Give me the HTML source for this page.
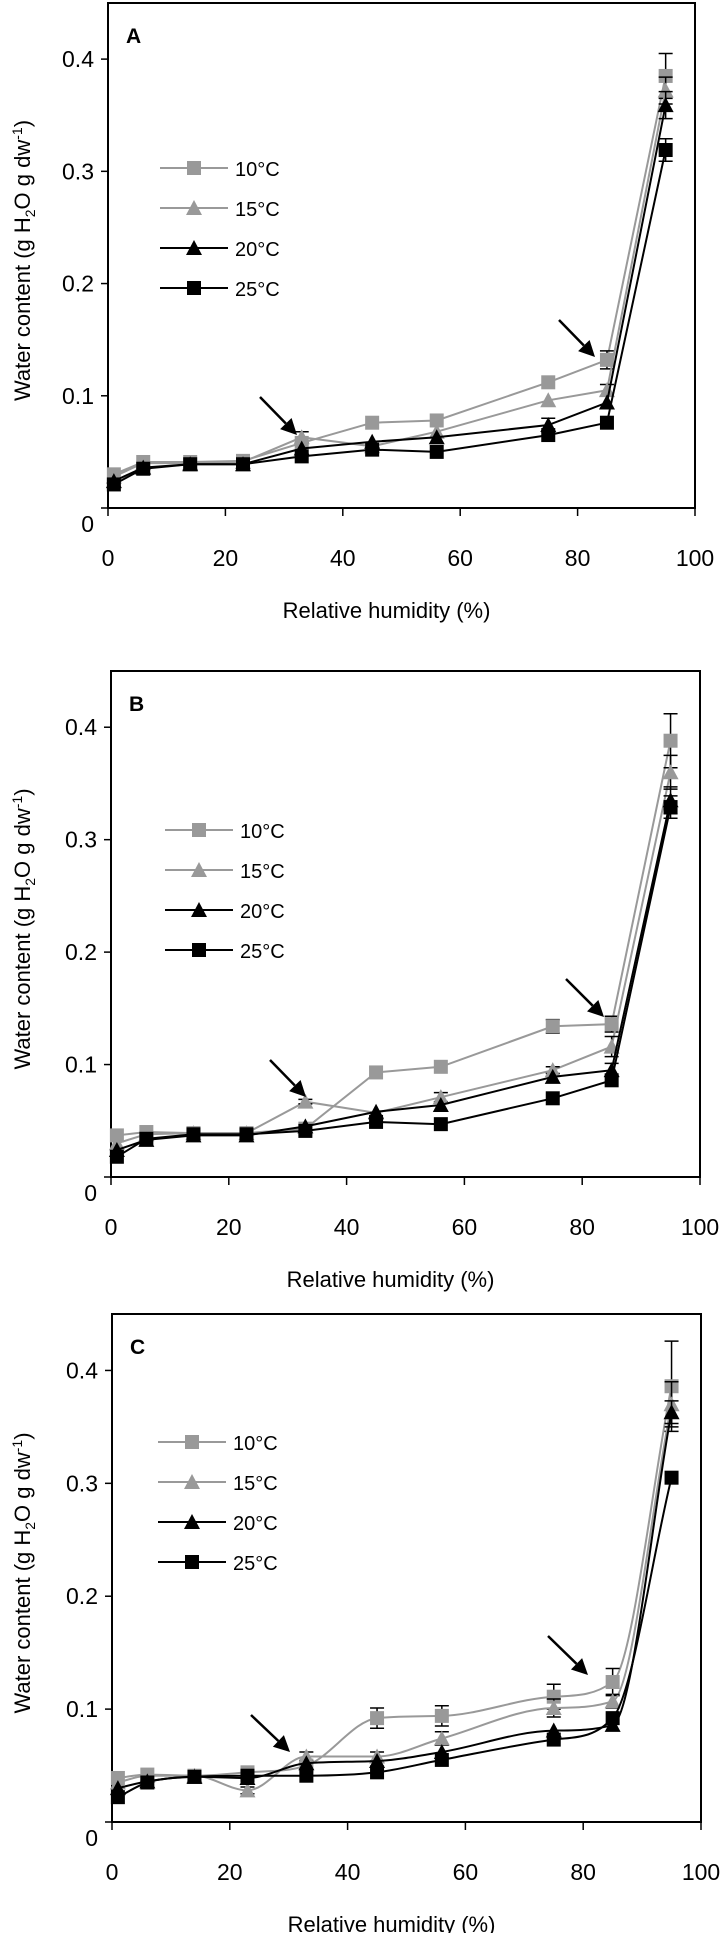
<!DOCTYPE html>
<html><head><meta charset="utf-8">
<style>
body{margin:0;background:#fff;width:720px;height:1933px;overflow:hidden}
svg{display:block}
text{font-family:"Liberation Sans",Arial,sans-serif}
</style></head>
<body>
<svg id="chart" width="720" height="1933" viewBox="0 0 720 1933"></svg>
<script>
const rh = [1, 6, 14, 23, 33, 45, 56, 75, 85, 95];
const xTicks = [0, 20, 40, 60, 80, 100];
const yTicks = [0, 0.1, 0.2, 0.3, 0.4];
const yTickLabels = ["0", "0.1", "0.2", "0.3", "0.4"];
const seriesNames = ["10°C", "15°C", "20°C", "25°C"];

const a10 = [0.030, 0.041, 0.041, 0.042, 0.058, 0.076, 0.078, 0.112, 0.132, 0.385];
const a15 = [0.028, 0.040, 0.040, 0.041, 0.063, 0.055, 0.068, 0.096, 0.105, 0.372];
const a20 = [0.024, 0.036, 0.039, 0.039, 0.053, 0.059, 0.063, 0.074, 0.094, 0.359];
const a25 = [0.021, 0.035, 0.039, 0.039, 0.046, 0.052, 0.050, 0.065, 0.076, 0.319];
const aErr = [[0,0,0,0,0,0,0,0,0.008,0.02],[0,0,0,0,0.005,0,0,0,0.005,0.012],[0,0,0,0,0,0,0,0.006,0,0.012],[0,0,0,0,0,0,0,0,0,0.01]];

const b10 = [0.037, 0.040, 0.039, 0.039, 0.043, 0.093, 0.098, 0.134, 0.136, 0.388];
const b15 = [0.030, 0.038, 0.039, 0.039, 0.067, 0.057, 0.071, 0.095, 0.116, 0.360];
const b20 = [0.024, 0.033, 0.037, 0.037, 0.045, 0.058, 0.064, 0.089, 0.095, 0.335];
const b25 = [0.018, 0.034, 0.038, 0.038, 0.041, 0.049, 0.047, 0.070, 0.086, 0.329];
const bErr = [[0,0,0,0,0,0,0,0.006,0.007,0.024],[0,0,0,0,0.002,0,0.004,0.003,0.009,0.015],[0,0,0,0,0,0,0,0,0.006,0.012],[0,0,0,0,0,0,0,0,0,0.01]];

const c10 = [0.039, 0.042, 0.041, 0.044, 0.050, 0.092, 0.094, 0.111, 0.124, 0.386];
const c15 = [0.035, 0.041, 0.041, 0.028, 0.058, 0.058, 0.074, 0.101, 0.107, 0.370];
const c20 = [0.030, 0.036, 0.040, 0.039, 0.052, 0.054, 0.062, 0.081, 0.086, 0.363];
const c25 = [0.022, 0.035, 0.040, 0.041, 0.041, 0.044, 0.055, 0.073, 0.092, 0.305];
const cErr = [[0,0,0,0,0,0.009,0.009,0.011,0.012,0.04],[0,0,0,0.003,0.004,0.004,0.006,0.008,0.006,0.02],[0,0,0,0,0,0,0,0,0,0.01],[0,0,0,0,0,0,0,0,0,0]];

const NS = "http://www.w3.org/2000/svg";
const svg = document.getElementById("chart");
function mk(tag, attrs, parent, txt){
  const e = document.createElementNS(NS, tag);
  for (const k in attrs) e.setAttribute(k, attrs[k]);
  if (txt !== undefined) e.textContent = txt;
  (parent || svg).appendChild(e);
  return e;
}
const colors = ["#999999", "#999999", "#000000", "#000000"];
const markers = ["square", "triangle", "triangle", "square"];

const panels = [
  {label:"A", L:108, T:3, R:695, B:508, data:[a10,a15,a20,a25], err:aErr, legY:168, legX:160, smooth:false,
   arrows:[[260,397,297,435],[559,320,595,357]]},
  {label:"B", L:111, T:671, R:700, B:1177, data:[b10,b15,b20,b25], err:bErr, legY:830, legX:165, smooth:false,
   arrows:[[270,1060,306,1097],[566,979,604,1017]]},
  {label:"C", L:112, T:1314, R:701, B:1822, data:[c10,c15,c20,c25], err:cErr, legY:1442, legX:158, smooth:true,
   arrows:[[251,1715,290,1752],[548,1636,588,1675]]}
];

function drawMarker(g, type, cx, cy, color){
  let m;
  if (type === "square") m = mk("rect", {x:cx-7, y:cy-7, width:14, height:14, fill:color}, g);
  else m = mk("polygon", {points:`${cx},${cy-8} ${cx+8},${cy+7} ${cx-8},${cy+7}`, fill:color}, g);
  
  
}

function pathFor(pts, smooth){
  if (!smooth) return "M" + pts.map(p => p[0].toFixed(1)+","+p[1].toFixed(1)).join(" L");
  // monotone cubic (Fritsch-Carlson)
  const n = pts.length, d = [], m = [];
  for (let i = 0; i < n-1; i++) d.push((pts[i+1][1]-pts[i][1])/(pts[i+1][0]-pts[i][0]));
  m[0] = d[0]; m[n-1] = d[n-2];
  for (let i = 1; i < n-1; i++) m[i] = (d[i-1]*d[i] <= 0) ? 0 : (d[i-1]+d[i])/2;
  for (let i = 0; i < n-1; i++){
    if (d[i] === 0){ m[i] = 0; m[i+1] = 0; continue; }
    const a = m[i]/d[i], b = m[i+1]/d[i], s = a*a + b*b;
    if (s > 9){ const t = 3/Math.sqrt(s); m[i] = t*a*d[i]; m[i+1] = t*b*d[i]; }
  }
  let path = "M" + pts[0][0].toFixed(1) + "," + pts[0][1].toFixed(1);
  for (let i = 0; i < n-1; i++){
    const h = (pts[i+1][0]-pts[i][0])/3;
    path += ` C${(pts[i][0]+h).toFixed(1)},${(pts[i][1]+m[i]*h).toFixed(1)} ${(pts[i+1][0]-h).toFixed(1)},${(pts[i+1][1]-m[i+1]*h).toFixed(1)} ${pts[i+1][0].toFixed(1)},${pts[i+1][1].toFixed(1)}`;
  }
  return path;
}

panels.forEach((p) => {
  const g = mk("g", {});
  
  
  const unit = (p.B - p.T) / 0.45;
  const xs = v => p.L + (v / 100) * (p.R - p.L);
  const ys = v => p.B - v * unit;
  const box = mk("rect", {x:p.L, y:p.T, width:p.R-p.L, height:p.B-p.T, fill:"none", stroke:"#000", "stroke-width":2}, g);
  
  
  yTicks.forEach((v, i) => {
    const y = ys(v);
    const tk = mk("line", {x1:p.L-7, x2:p.L, y1:y, y2:y, stroke:"#000", "stroke-width":1.5}, g);
    
    
    const ty = i === 0 ? y + 24 : y + 8;
    const lb = mk("text", {x:p.L-14, y:ty, "text-anchor":"end", "font-size":23, fill:"#000"}, g, yTickLabels[i]);
    
    
  });
  xTicks.forEach(v => {
    const x = xs(v);
    const tk = mk("line", {x1:x, x2:x, y1:p.B, y2:p.B+8, stroke:"#000", "stroke-width":1.5}, g);
    
    
    const lb = mk("text", {x:x, y:p.B+58, "text-anchor":"middle", "font-size":23, fill:"#000"}, g, String(v));
    
    
  });
  const xt = mk("text", {x:(p.L+p.R)/2 - 15, y:p.B+110, "text-anchor":"middle", "font-size":22, fill:"#000"}, g, "Relative humidity (%)");
  
  
  const cy = (p.T + p.B) / 2 + 5;
  const yt = mk("text", {x:0, y:0, transform:`translate(30,${cy}) rotate(-90)`, "text-anchor":"middle", "font-size":22, fill:"#000"}, g);
  
  
  yt.innerHTML = 'Water content (g H<tspan font-size="14" dy="5">2</tspan><tspan dy="-5">O g dw</tspan><tspan font-size="14" dy="-8">-1</tspan><tspan dy="8">)</tspan>';
  const pl = mk("text", {x:p.L+18, y:p.T+40, "font-size":21, "font-weight":"bold", fill:"#000"}, g, p.label);
  
  
  p.data.forEach((vals, si) => {
    const sg = mk("g", {}, g);
    
    
    const pts = vals.map((v, i) => [xs(rh[i]), ys(v)]);
    const ln = mk("path", {d:pathFor(pts, p.smooth), fill:"none", stroke:colors[si], "stroke-width":2}, sg);
    
    
    vals.forEach((v, i) => {
      const e = p.err[si][i];
      if (e > 0){
        const x = xs(rh[i]);
        const eb = mk("path", {d:`M${x},${ys(v-e)} L${x},${ys(v+e)} M${x-7},${ys(v+e)} L${x+7},${ys(v+e)} M${x-7},${ys(v-e)} L${x+7},${ys(v-e)}`, stroke:"#000", "stroke-width":1.5, fill:"none"}, sg);
        
        
      }
    });
    pts.forEach(pt => drawMarker(sg, markers[si], pt[0], pt[1], colors[si]));
  });
  const lg = mk("g", {}, g);
  
  
  seriesNames.forEach((n, si) => {
    const y = p.legY + si * 40;
    const eg = mk("g", {}, lg);
    
    
    mk("line", {x1:p.legX, x2:p.legX+68, y1:y, y2:y, stroke:colors[si], "stroke-width":2}, eg);
    drawMarker(eg, markers[si], p.legX+34, y, colors[si]);
    mk("text", {x:p.legX+75, y:y+8, "font-size":20, fill:"#000"}, eg, n);
  });
  p.arrows.forEach(a => {
    const [x1,y1,x2,y2] = a;
    const ang = Math.atan2(y2-y1, x2-x1);
    const bx = x2 - 16*Math.cos(ang), by = y2 - 16*Math.sin(ang);
    const ar = mk("g", {}, g);
    
    
    mk("line", {x1:x1, y1:y1, x2:bx, y2:by, stroke:"#000", "stroke-width":2.5}, ar);
    const px = -Math.sin(ang)*8, py = Math.cos(ang)*8;
    mk("polygon", {points:`${x2},${y2} ${bx+px},${by+py} ${bx-px},${by-py}`, fill:"#000"}, ar);
  });
});
</script>
</body></html>
